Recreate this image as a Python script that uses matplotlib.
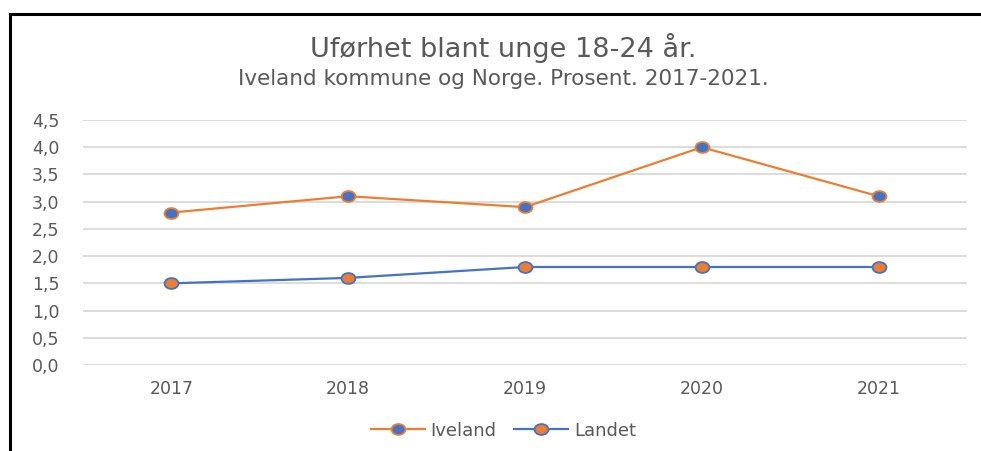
import matplotlib.pyplot as plt
from matplotlib.lines import Line2D
from matplotlib.path import Path
from matplotlib.transforms import Affine2D

years = ['2017', '2018', '2019', '2020', '2021']
iveland = [2.8, 3.1, 2.9, 4.0, 3.1]
landet = [1.5, 1.6, 1.8, 1.8, 1.8]
yticks = [0.0, 0.5, 1.0, 1.5, 2.0, 2.5, 3.0, 3.5, 4.0, 4.5]

orange = '#ED7D31'
blue = '#4472C4'
grey = '#595959'

plt.rcParams['font.family'] = ['DejaVu Sans']

# slightly flattened circle, like the reference markers
oval = Path.unit_circle().transformed(Affine2D().scale(1.0, 0.78))

fig = plt.figure(figsize=(9.81, 4.51), dpi=100)
ax = fig.add_axes([0.0846, 0.1907, 0.9011, 0.5432])

x = range(len(years))
ax.plot(x, iveland, color=orange, lw=1.6, marker=oval, ms=10,
        mfc=blue, mec=orange, mew=1.3, label='Iveland', zorder=3)
ax.plot(x, landet, color=blue, lw=1.6, marker=oval, ms=10,
        mfc=orange, mec=blue, mew=1.3, label='Landet', zorder=3)

ax.set_xlim(-0.5, 4.5)
ax.set_ylim(0, 4.5)
ax.set_yticks(yticks)
ax.set_yticklabels([f'{v:.1f}'.replace('.', ',') for v in yticks])
ax.set_xticks(list(x))
ax.set_xticklabels(years)
ax.tick_params(length=0, labelsize=12.5, labelcolor=grey)
ax.tick_params(axis='y', pad=17)
ax.tick_params(axis='x', pad=11)
ax.grid(axis='y', color='#D9D9D9', lw=1.3)
for s in ax.spines.values():
    s.set_visible(False)

fig.text(0.513, 0.893, 'Uførhet blant unge 18-24 år.', ha='center', va='center',
         fontsize=19.5, color=grey)
fig.text(0.513, 0.825, 'Iveland kommune og Norge. Prosent. 2017-2021.', ha='center',
         va='center', fontsize=15.5, color=grey)

fig.legend(loc='center', bbox_to_anchor=(0.513, 0.045), ncol=2, frameon=False,
           fontsize=13, labelcolor=grey, handlelength=3, columnspacing=1.0,
           handletextpad=0.3)

# black frame (left and top edges visible)
fig.add_artist(Line2D([0.0105, 0.0105], [0, 0.969], color='black', lw=2.2,
                      transform=fig.transFigure))
fig.add_artist(Line2D([0.0105, 1.0], [0.969, 0.969], color='black', lw=2.2,
                      transform=fig.transFigure))

fig.savefig('out.png', dpi=100)
